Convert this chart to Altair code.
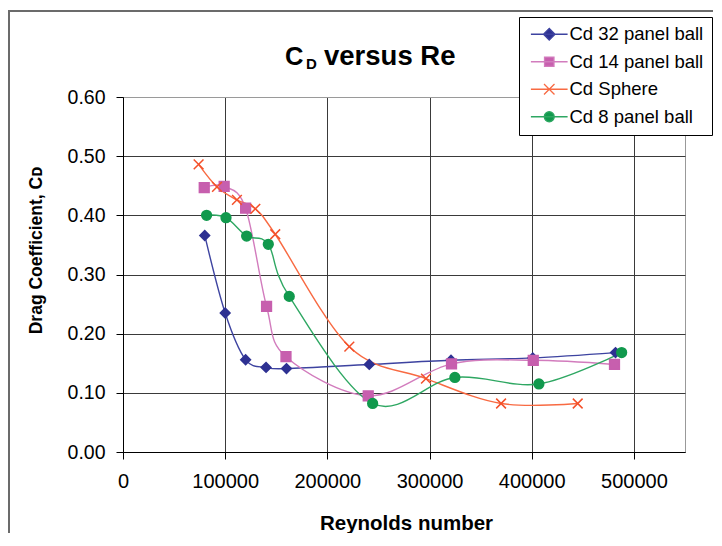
import altair as alt
import pandas as pd

FONT = "Liberation Sans"

SERIES = ["Cd 32 panel ball", "Cd 14 panel ball", "Cd Sphere", "Cd 8 panel ball"]
MARKER_COLORS = ["#2e3192", "#c75fae", "#f4502a", "#11994d"]
LINE_COLORS = ["#3d43a0", "#d27cbd", "#f86a42", "#2ea762"]

re_32 = [80000, 100000, 120000, 140000, 160000, 241000, 321000, 401000, 482000]
cd_32 = [0.366, 0.235, 0.156, 0.143, 0.141, 0.148, 0.155, 0.159, 0.168]

re_14 = [79500, 99000, 120000, 140500, 159500, 240000, 321500, 401500, 481000]
cd_14 = [0.447, 0.449, 0.412, 0.246, 0.161, 0.095, 0.149, 0.155, 0.148]

re_sphere = [74000, 92000, 111500, 129500, 149000, 221500, 296500, 370000, 445000]
cd_sphere = [0.486, 0.448, 0.426, 0.411, 0.368, 0.178, 0.124, 0.082, 0.082]

re_8 = [81800, 100800, 121000, 142200, 162700, 244300, 324800, 407000, 488000]
cd_8 = [0.400, 0.396, 0.365, 0.351, 0.263, 0.082, 0.126, 0.115, 0.168]

X_TICKS = [0, 100000, 200000, 300000, 400000, 500000]
Y_TICKS = [0.0, 0.1, 0.2, 0.3, 0.4, 0.5, 0.6]
TITLE_PARTS = ["C", "D", "versus Re"]

X_PATH = "M-1,-1L1,1M-1,1L1,-1"
POINT_SHAPES = ["diamond", "square", X_PATH, "circle"]
LEGEND_SHAPES = [
    "M-3.5,0H3.5M-1.1,0L0,-1.1L1.1,0L0,1.1Z",
    "M-3.5,0H3.5M-0.9,-0.9H0.9V0.9H-0.9Z",
    "M-3.5,0H3.5M-1,-1L1,1M-1,1L1,-1",
    "M-3.5,0H3.5M-0.95,0A0.95,0.95,0,1,1,0.95,0A0.95,0.95,0,1,1,-0.95,0Z",
]

rows = []
for name, xs, ys in zip(SERIES, [re_32, re_14, re_sphere, re_8], [cd_32, cd_14, cd_sphere, cd_8]):
    for xv, yv in zip(xs, ys):
        rows.append({"series": name, "re": xv, "cd": yv})
df = pd.DataFrame(rows)

x_enc = alt.X(
    "re:Q",
    scale=alt.Scale(domain=[0, 550000], nice=False, zero=False),
    axis=alt.Axis(
        values=X_TICKS, format="d", title="Reynolds number",
        labelFont=FONT, labelFontSize=20, labelColor="black", labelPadding=12,
        labelFlush=False, labelOverlap=False,
        tickColor="black", tickSize=7, domainColor="black", domainWidth=1,
        grid=True, gridColor="#3a3a3a", gridWidth=1,
        titleFont=FONT, titleFontSize=20.5, titleFontWeight="bold", titleColor="black",
        titleX=283, titleY=77, titleAlign="center", titleBaseline="alphabetic",
    ),
)
y_enc = alt.Y(
    "cd:Q",
    scale=alt.Scale(domain=[0, 0.6], nice=False),
    axis=alt.Axis(
        values=Y_TICKS, format=".2f", title="Drag Coefficient, C\u1d05",
        labelFont=FONT, labelFontSize=19.5, labelColor="black", labelPadding=11,
        tickColor="black", tickSize=7, domainColor="black", domainWidth=1,
        grid=True, gridWidth=1,
        gridColor={"condition": {"test": "datum.value >= 0.59", "value": "#9a9a9a"}, "value": "#3a3a3a"},
        titleFont=FONT, titleFontSize=17.5, titleFontWeight="bold", titleColor="black",
        titleAngle=270, titleX=-82, titleY=153, titleAlign="center", titleBaseline="alphabetic",
    ),
)

base = alt.Chart(df)

lines = base.mark_line(interpolate="cardinal", strokeWidth=1.4).encode(
    x=x_enc, y=y_enc,
    color=alt.Color("series:N", scale=alt.Scale(domain=SERIES, range=LINE_COLORS), legend=None),
)

points = base.mark_point(filled=True, opacity=1, size=95, strokeWidth=1.5).encode(
    x=x_enc, y=y_enc,
    fill=alt.Fill("series:N", scale=alt.Scale(domain=SERIES, range=MARKER_COLORS), legend=None),
    stroke=alt.Stroke("series:N", scale=alt.Scale(domain=SERIES, range=MARKER_COLORS), legend=None),
    shape=alt.Shape("series:N", scale=alt.Scale(domain=SERIES, range=POINT_SHAPES), legend=None),
)

LEG = alt.Legend(
    title=None, orient="none", legendX=396, legendY=-80,
    strokeColor="black", fillColor="white", padding=8, cornerRadius=0,
    symbolSize=110, symbolOffset=13, symbolStrokeWidth=1.3, symbolOpacity=1,
    labelOffset=11, labelFont=FONT, labelFontSize=18.5, labelColor="black",
    labelLimit=400, rowPadding=8.5,
)

legend_layer = base.transform_filter("false").mark_point(filled=True, opacity=1, size=110, strokeWidth=1.3).encode(
    x=x_enc, y=y_enc,
    fill=alt.Fill("series:N", scale=alt.Scale(domain=SERIES, range=MARKER_COLORS), legend=LEG),
    stroke=alt.Stroke("series:N", scale=alt.Scale(domain=SERIES, range=LINE_COLORS), legend=LEG),
    shape=alt.Shape("series:N", scale=alt.Scale(domain=SERIES, range=LEGEND_SHAPES), legend=LEG),
)

title_df = pd.DataFrame({"t": TITLE_PARTS})
title_c = alt.Chart(title_df).transform_filter(alt.datum.t == TITLE_PARTS[0]).mark_text(
    font=FONT, fontSize=25.5, fontWeight="bold", align="left", baseline="alphabetic", color="black"
).encode(text="t:N", x=alt.value(162), y=alt.value(-32))
title_d = alt.Chart(title_df).transform_filter(alt.datum.t == TITLE_PARTS[1]).mark_text(
    font=FONT, fontSize=15, fontWeight="bold", align="left", baseline="alphabetic", color="black"
).encode(text="t:N", x=alt.value(183), y=alt.value(-28))
title_rest = alt.Chart(title_df).transform_filter(alt.datum.t == TITLE_PARTS[2]).mark_text(
    font=FONT, fontSize=27.5, fontWeight="bold", align="left", baseline="alphabetic", color="black"
).encode(text="t:N", x=alt.value(201), y=alt.value(-32))

frame = alt.Chart(pd.DataFrame({"f": [0]})).mark_rect(
    fillOpacity=0, stroke="#6b6b6b", strokeWidth=2
).encode(x=alt.value(-114), x2=alt.value(700), y=alt.value(-86), y2=alt.value(600))

chart = alt.layer(
    frame, lines, points, legend_layer, title_c, title_d, title_rest
).resolve_scale(
    fill="independent", stroke="independent", shape="independent"
).properties(
    width=562, height=355,
    autosize=alt.AutoSizeParams(type="none"),
    padding={"left": 115, "top": 89, "right": 28, "bottom": 81},
    background="white",
).configure_view(stroke="#999999", strokeWidth=1)

chart.save("out.html", embed_options={"renderer": "svg", "actions": False})
